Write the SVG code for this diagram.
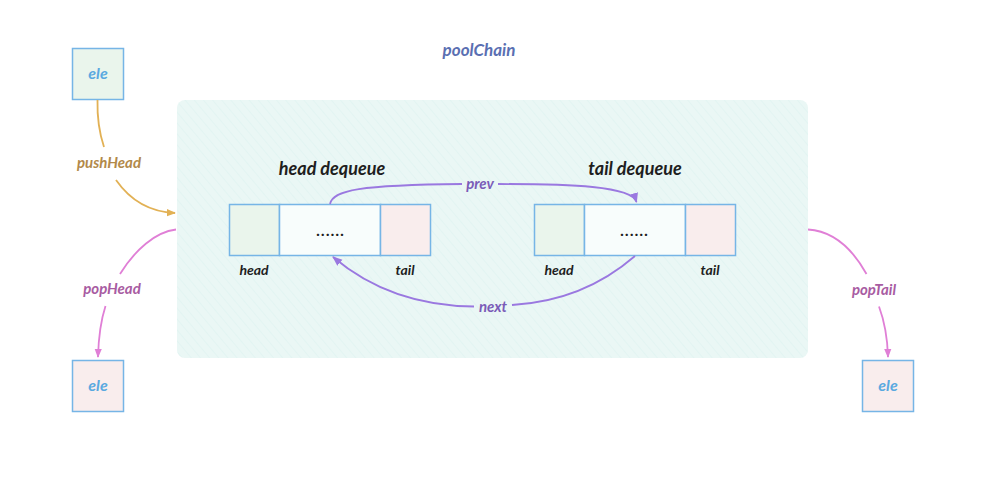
<svg xmlns="http://www.w3.org/2000/svg" width="992" height="481" viewBox="0 0 992 481">
<defs>
<pattern id="hatch" width="7" height="7" patternUnits="userSpaceOnUse" patternTransform="rotate(-40)">
<line x1="0" y1="0" x2="0" y2="7" stroke="#d6efec" stroke-width="1" stroke-opacity="0.8"/>
</pattern>
<marker id="arrGold" viewBox="0 0 10 10" refX="9" refY="5" markerWidth="9" markerHeight="9" orient="auto" markerUnits="userSpaceOnUse">
<path d="M0,1 L10,5 L0,9 Z" fill="#e2b155"/>
</marker>
<marker id="arrPink" viewBox="0 0 10 10" refX="9" refY="5" markerWidth="9" markerHeight="9" orient="auto" markerUnits="userSpaceOnUse">
<path d="M0,1 L10,5 L0,9 Z" fill="#e07fd6"/>
</marker>
<marker id="arrPurple" viewBox="0 0 10 10" refX="9" refY="5" markerWidth="10" markerHeight="10" orient="auto" markerUnits="userSpaceOnUse">
<path d="M0,1 L10,5 L0,9 Z" fill="#9a78e0"/>
</marker>
</defs>
<style>
.t{font-family:"Lato","Liberation Sans",sans-serif;font-style:italic;font-weight:bold;text-anchor:middle}
.box{stroke:#76b5e6;stroke-width:1.5}
.green{fill:#eaf5ec}
.pink{fill:#f9eded}
.mid{fill:#f8fdfc}
.ele{fill:#5aa9e0;font-size:16px}
.lbl{fill:#1e1e1e;font-size:14px}
.dots{fill:#1e1e1e;font-size:16px;letter-spacing:1px}
.title{fill:#1e1e1e;font-size:18px}
.gold{stroke:#e2b155;stroke-width:1.8;fill:none}
.pk{stroke:#e07fd6;stroke-width:1.8;fill:none}
.pu{stroke:#9a78e0;stroke-width:1.8;fill:none}
</style>
<rect width="992" height="481" fill="#ffffff"/>

<g id="poolChain">
<rect x="177" y="100" width="631" height="258" rx="8" fill="#eaf7f5"/>
<rect x="177" y="100" width="631" height="258" rx="8" fill="url(#hatch)"/>
<text class="t" x="479" y="56" font-size="17" fill="#5a6fb2">poolChain</text>
</g>

<g id="eleTop">
<rect class="box green" x="72.5" y="48.5" width="51" height="51"/>
<text class="t ele" x="98" y="79">ele</text>
</g>

<g id="eleBottomLeft">
<rect class="box pink" x="72.5" y="360.5" width="51" height="51"/>
<text class="t ele" x="98" y="391">ele</text>
</g>

<g id="eleBottomRight">
<rect class="box pink" x="862.5" y="360.5" width="51" height="51"/>
<text class="t ele" x="888" y="391">ele</text>
</g>

<g id="headDequeue">
<text class="t title" x="332" y="175">head dequeue</text>
<rect class="box green" x="229.5" y="204.5" width="50" height="51"/>
<rect class="box mid" x="279.5" y="204.5" width="101" height="51"/>
<rect class="box pink" x="380.5" y="204.5" width="50" height="51"/>
<text class="t dots" x="331" y="236">......</text>
<text class="t lbl" x="254" y="275">head</text>
<text class="t lbl" x="405" y="275">tail</text>
</g>

<g id="tailDequeue">
<text class="t title" x="635" y="175">tail dequeue</text>
<rect class="box green" x="534.5" y="204.5" width="50" height="51"/>
<rect class="box mid" x="584.5" y="204.5" width="101" height="51"/>
<rect class="box pink" x="685.5" y="204.5" width="50" height="51"/>
<text class="t dots" x="635" y="236">......</text>
<text class="t lbl" x="559" y="275">head</text>
<text class="t lbl" x="710" y="275">tail</text>
</g>

<g id="connectors">
<path class="gold" d="M97.5,100 C97,120 100,135 104,147"/>
<path class="gold" d="M116,180 C130,200 150,212 175,213" marker-end="url(#arrGold)"/>
<text class="t" x="109" y="168" font-size="15" fill="#b2894a">pushHead</text>

<path class="pk" d="M176,229.5 C155,232 135,250 120,274"/>
<path class="pk" d="M105.5,306 C101,320 98.5,338 98,357" marker-end="url(#arrPink)"/>
<text class="t" x="112" y="294" font-size="15" fill="#a85ca2">popHead</text>

<path class="pk" d="M808,229.5 C832,231 852,248 866.5,274"/>
<path class="pk" d="M879,306.5 C884,320 887.5,338 888,357" marker-end="url(#arrPink)"/>
<text class="t" x="874" y="295" font-size="15" fill="#a85ca2">popTail</text>

<path class="pu" d="M330,204 C333,190 360,185 462,184"/>
<path class="pu" d="M498,184 C570,184 632,186 636.5,202" marker-end="url(#arrPurple)"/>
<text class="t" x="480" y="189" font-size="15" fill="#7a5cb8">prev</text>

<path class="pu" d="M635,256 C605,282 565,302 512,305"/>
<path class="pu" d="M474,306.5 C420,306 372,290 333,257" marker-end="url(#arrPurple)"/>
<text class="t" x="493" y="312" font-size="15" fill="#7a5cb8">next</text>
</g>
</svg>
